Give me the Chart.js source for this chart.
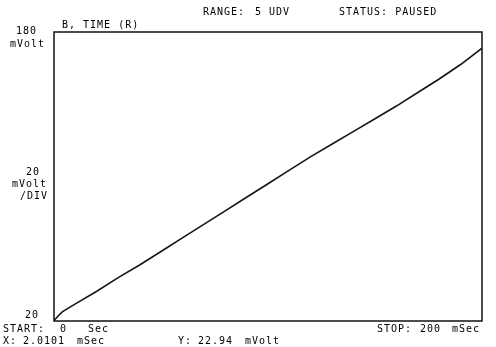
<!DOCTYPE html>
<html>
<head>
<meta charset="utf-8">
<script src="https://cdn.jsdelivr.net/npm/chart.js@4/dist/chart.umd.min.js"></script>
<style>
  html, body { margin: 0; padding: 0; background: #fff; }
  #wrap { width: 496px; height: 347px; }
</style>
</head>
<body>
<div id="wrap"><canvas id="c" width="496" height="347"></canvas></div>
<script>
// Time base (ms) and the recorded voltage (mV) of the ramp trace
const timeMs = [0, 1, 2.0101, 4, 10, 20, 30, 40, 50, 60, 70, 80, 90, 100, 110, 120, 130, 140, 150, 160, 170, 180, 190, 200];
const voltMv = [20.5, 21.5, 22.94, 25.2, 29.5, 36.5, 44, 51, 58.5, 66, 73.5, 81, 88.5, 96, 103.5, 111, 118, 125, 132, 139, 146.5, 154, 162, 171];

// Display range
const xRange = [0, 200];      // START 0 Sec .. STOP 200 mSec
const yRange = [20, 180];     // 20 .. 180 mVolt, 20 mVolt/DIV

// Readout words: text, left x, middle y
const headerTexts = [
  ['B, TIME (R)', 62, 25],
  ['RANGE:', 203, 12], ['5 UDV', 255, 12],
  ['STATUS: PAUSED', 339, 12]
];
const axisTexts = [
  ['180', 16, 31], ['mVolt', 10, 44],
  ['20', 26, 172], ['mVolt', 12, 184], ['/DIV', 20, 196],
  ['20', 25, 315]
];
const footerTexts = [
  ['START:', 3, 329], ['0', 60, 329], ['Sec', 88, 329],
  ['X:', 3, 341], ['2.0101', 23, 341], ['mSec', 77, 341],
  ['Y:', 178, 341], ['22.94', 198, 341], ['mVolt', 245, 341],
  ['STOP:', 377, 329], ['200', 420, 329], ['mSec', 452, 329]
];

const FONT = '10px "DejaVu Sans Mono", "Liberation Mono", monospace';

const frameAndText = {
  id: 'frameAndText',
  afterDraw(chart) {
    const ctx = chart.ctx;
    const a = chart.chartArea;
    ctx.save();
    ctx.strokeStyle = '#111';
    ctx.lineWidth = 1.5;
    ctx.strokeRect(a.left, a.top, a.right - a.left, a.bottom - a.top);
    ctx.fillStyle = '#000';
    ctx.font = FONT;
    ctx.letterSpacing = '1px';
    ctx.textBaseline = 'middle';
    ctx.textAlign = 'left';
    [...headerTexts, ...axisTexts, ...footerTexts].forEach(([t, x, y]) => {
      ctx.fillText(t, x, y);
    });
    ctx.restore();
  }
};

new Chart(document.getElementById('c'), {
  type: 'line',
  data: {
    datasets: [{
      data: timeMs.map((t, i) => ({ x: t, y: voltMv[i] })),
      borderColor: '#151515',
      borderWidth: 1.6,
      pointRadius: 0,
      tension: 0,
      fill: false
    }]
  },
  options: {
    responsive: false,
    animation: false,
    layout: { padding: { left: 54, top: 32, right: 14, bottom: 26 } },
    plugins: { legend: { display: false }, tooltip: { enabled: false } },
    scales: {
      x: { type: 'linear', min: xRange[0], max: xRange[1], display: false },
      y: { type: 'linear', min: yRange[0], max: yRange[1], display: false }
    }
  },
  plugins: [frameAndText]
});
</script>
</body>
</html>
